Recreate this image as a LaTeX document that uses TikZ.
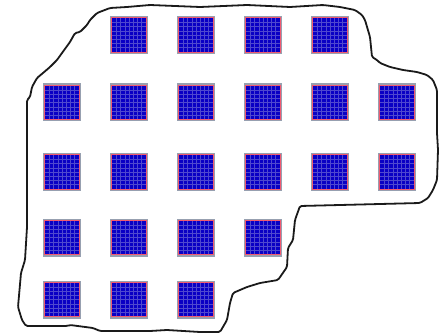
\documentclass[tikz,border=0pt]{standalone}
\usepackage{xcolor}
\definecolor{PanelBlue}{HTML}{0A00C4}
\definecolor{PanelRed}{HTML}{F25A70}
\definecolor{PanelGrey}{HTML}{97A0B0}
\definecolor{CellLine}{HTML}{4F48CF}
\definecolor{Outline}{HTML}{1A1A1A}
\usepackage{tikz}
\usetikzlibrary{positioning}
\tikzstyle{panel} = [rectangle, fill=PanelGrey, minimum size=38pt, inner sep=0pt, path picture={
    \fill[PanelRed] ([shift={(1.3pt,1.3pt)}]path picture bounding box.south west) rectangle ([shift={(-1.3pt,-1.3pt)}]path picture bounding box.north east);
    \fill[PanelBlue] ([shift={(2.2pt,2.2pt)}]path picture bounding box.south west) rectangle ([shift={(-2.2pt,-2.2pt)}]path picture bounding box.north east);
    \foreach \k in {1,...,7} {
      \draw[CellLine, line width=0.35pt] ([shift={(2.2pt+\k*4.2pt,2.2pt)}]path picture bounding box.south west) -- ([shift={(2.2pt+\k*4.2pt,-2.2pt)}]path picture bounding box.north west);
      \draw[CellLine, line width=0.35pt] ([shift={(2.2pt,2.2pt+\k*4.2pt)}]path picture bounding box.south west) -- ([shift={(-2.2pt,2.2pt+\k*4.2pt)}]path picture bounding box.south east);
    }}]
\tikzstyle{boundary} = [line width=1.8pt, color=Outline, rounded corners=1.5pt, line join=round]

\begin{document}
\begin{tikzpicture}[x=1pt, y=-1pt]
        \useasboundingbox (0,0) rectangle (439,334);

        % Roof boundary
        \draw [boundary] (97,13) -- (110,8) -- (127,7) -- (150,5) -- (200,7) -- (247,5) -- (290,7) -- (323,5) -- (340,7) -- (355,10) -- (362,15) -- (365,20) -- (370,37) -- (372,57) -- (377,60) -- (380,63) -- (390,67) -- (403,70) -- (417,72) -- (427,75) -- (433,80) -- (437,90) -- (437,133) -- (438,150) -- (437,180) -- (433,190) -- (428,198) -- (420,203) -- (300,206) -- (295,220) -- (293,240) -- (288,248) -- (287,267) -- (278,280) -- (260,283) -- (247,287) -- (233,293) -- (230,303) -- (227,320) -- (220,332) -- (200,332) -- (167,330) -- (150,331) -- (100,331) -- (93,328) -- (70,325) -- (67,326) -- (26,326) -- (22,320) -- (18,307) -- (21,273) -- (25,260) -- (27,227) -- (27,120) -- (27,100) -- (30,97) -- (32,87) -- (37,78) -- (43,73) -- (50,67) -- (57,60) -- (62,53) -- (70,42) -- (75,33) -- (80,32) -- (87,25) -- (90,20) -- cycle;

        % Panels, row by row
        \foreach \r/\y/\cols in {1/35/{2,3,4,5}, 2/102.5/{1,...,6}, 3/172/{1,...,6}, 4/237.5/{1,...,4}, 5/299.5/{1,2,3}}
          \foreach \c in \cols
            \node [panel] (p-\r-\c) at ({62+67*(\c-1)},\y) {};
    \end{tikzpicture}
\end{document}
